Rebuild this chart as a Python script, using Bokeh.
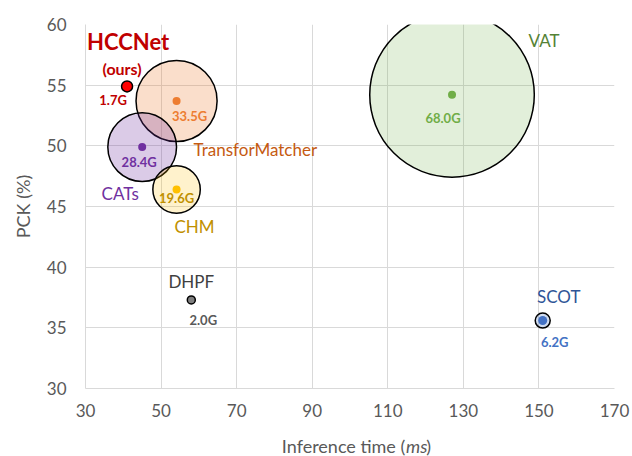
from bokeh.plotting import figure
from bokeh.layouts import column
from bokeh.models import ColumnDataSource, Range1d, FixedTicker
from bokeh.core.properties import value
from bokeh.embed import file_html
from bokeh.resources import INLINE

# ---- data ----
methods = ["HCCNet", "TransforMatcher", "CATs", "CHM", "VAT", "SCOT", "DHPF"]
inference_ms = [41.0, 54.1, 45.0, 54.1, 127.0, 151.0, 58.0]
pck = [54.9, 53.7, 49.9, 46.4, 54.2, 35.6, 37.3]
gflops = [1.7, 33.5, 28.4, 19.6, 68.0, 6.2, 2.0]
flops_labels = ["1.7G", "33.5G", "28.4G", "19.6G", "68.0G", "6.2G", "2.0G"]
x_ticks = [30, 50, 70, 90, 110, 130, 150, 170]
y_ticks = [30, 35, 40, 45, 50, 55, 60]

# ---- styles ----
dot_color = ["#FF0000", "#ED7D31", "#7030A0", "#FFC000", "#70AD47", "#4472C4", "#7F7F7F"]
bubble_alpha = [1.0, 0.25, 0.25, 0.2, 0.2, 0.25, 1.0]
name_color = ["#C00000", "#C55A11", "#7030A0", "#BF9000", "#548235", "#2F5597", "#404040"]
val_color = ["#C00000", "#ED7D31", "#7030A0", "#BF9000", "#70AD47", "#4472C4", "#595959"]
dot_size = [11, 8, 8, 8, 8, 9, 8]
dot_line = ["black", None, None, None, None, None, "black"]
# label offsets in px (x right, y down) relative to the point
name_dx = [0, 17, -22, 18, 92, 16, 0]
name_dy = [0, 49, 46, 37, -54, -24, -18]
name_align = ["center", "left", "center", "center", "center", "center", "center"]
val_dx = [-14, 13, -3, 0, -9, 12, 12]
val_dy = [14, 15, 15, 8, 23, 21, 20]
BUBBLE_PX_PER_G = 2.42
FONT = "Lato"
GRID = "#D9D9D9"
AXIS_TEXT = "#595959"

hi = methods.index("HCCNet")
src = ColumnDataSource(dict(
    x=inference_ms, y=pck,
    dcolor=dot_color, dsize=dot_size, dline=dot_line,
    name=["" if i == hi else m for i, m in enumerate(methods)],
    ncolor=name_color, ndx=name_dx, ndy=name_dy, nalign=name_align,
    val=flops_labels, vcolor=val_color, vdx=val_dx, vdy=val_dy,
))

p = figure(width=632, height=430, output_backend="svg", toolbar_location=None,
           x_range=Range1d(x_ticks[0], x_ticks[-1]), y_range=Range1d(y_ticks[0], y_ticks[-1]),
           min_border_left=85, min_border_right=18, min_border_top=24, min_border_bottom=42)
p.outline_line_color = None

for ax, ticks in ((p.xaxis[0], x_ticks), (p.yaxis[0], y_ticks)):
    ax.ticker = FixedTicker(ticks=ticks)
    ax.major_tick_line_color = None
    ax.minor_tick_line_color = None
    ax.major_tick_out = 0
    ax.major_tick_in = 0
    ax.axis_line_color = GRID
    ax.major_label_text_font = FONT
    ax.major_label_text_font_size = "17px"
    ax.major_label_text_color = AXIS_TEXT
    ax.axis_label_text_font = FONT
    ax.axis_label_text_font_size = "18px"
    ax.axis_label_text_font_style = "normal"
    ax.axis_label_text_color = AXIS_TEXT
p.yaxis.major_label_standoff = 19
p.xaxis.major_label_standoff = 15
p.yaxis.axis_label = "PCK (%)"
p.yaxis.axis_label_standoff = 10
p.xaxis.axis_label = None
p.grid.grid_line_color = GRID
p.grid.grid_line_width = 1
p.xgrid.ticker = FixedTicker(ticks=x_ticks)
p.ygrid.ticker = FixedTicker(ticks=y_ticks)

# bubbles (largest first)
order = sorted(range(len(methods)), key=lambda i: -gflops[i])
bsrc = ColumnDataSource(dict(
    x=[inference_ms[i] for i in order], y=[pck[i] for i in order],
    size=[gflops[i] * BUBBLE_PX_PER_G for i in order],
    fill=[dot_color[i] for i in order], alpha=[bubble_alpha[i] for i in order],
))
p.scatter("x", "y", size="size", source=bsrc, fill_color="fill", fill_alpha="alpha",
          line_color="black", line_width=1.5)
# center dots
p.scatter("x", "y", size="dsize", source=src, fill_color="dcolor", line_color="dline",
          line_width=1.5)

# name labels
p.text("x", "y", text="name", source=src, x_offset="ndx", y_offset="ndy",
       text_align="nalign", text_baseline="middle", text_color="ncolor",
       text_font=value(FONT), text_font_size="17px")
# value labels
p.text("x", "y", text="val", source=src, x_offset="vdx", y_offset="vdy",
       text_align="center", text_baseline="middle", text_color="vcolor",
       text_font=value(FONT), text_font_size="13px", text_font_style="bold")

# HCCNet highlight
hsrc = ColumnDataSource(dict(x=[inference_ms[hi]], y=[pck[hi]]))
p.text("x", "y", text=value("HCCNet"), source=hsrc, x_offset=-40, y_offset=-45,
       text_align="left", text_baseline="middle", text_color="#C00000",
       text_font=value(FONT), text_font_size="22px", text_font_style="bold")
p.text("x", "y", text=value("(ours)"), source=hsrc, x_offset=-5, y_offset=-18,
       text_align="center", text_baseline="middle", text_color="#C00000",
       text_font=value(FONT), text_font_size="16px", text_font_style="bold")

# x-axis title strip (mixed upright / italic text)
W2, H2 = 632, 26
p2 = figure(width=W2, height=H2, output_backend="svg", toolbar_location=None,
            x_range=Range1d(0, W2), y_range=Range1d(0, H2),
            x_axis_location=None, y_axis_location=None,
            min_border=0, min_border_left=0, min_border_right=0,
            min_border_top=0, min_border_bottom=0)
p2.title.visible = False
p2.grid.visible = False
p2.outline_line_color = None
split_x = 382
mid_y = 11
tstyle = dict(text_baseline="middle", text_color=AXIS_TEXT,
              text_font=value(FONT), text_font_size="18px")
p2.text(x=[split_x], y=[mid_y], text=["Inference time ("], text_align="right", **tstyle)
p2.text(x=[split_x + 1], y=[mid_y], text=["ms"], text_align="left",
        text_font_style="italic", **tstyle)
p2.text(x=[split_x + 25], y=[mid_y], text=[")"], text_align="left", **tstyle)

layout = column(p, p2, spacing=0)
open("out.html", "w").write(file_html(layout, INLINE))
